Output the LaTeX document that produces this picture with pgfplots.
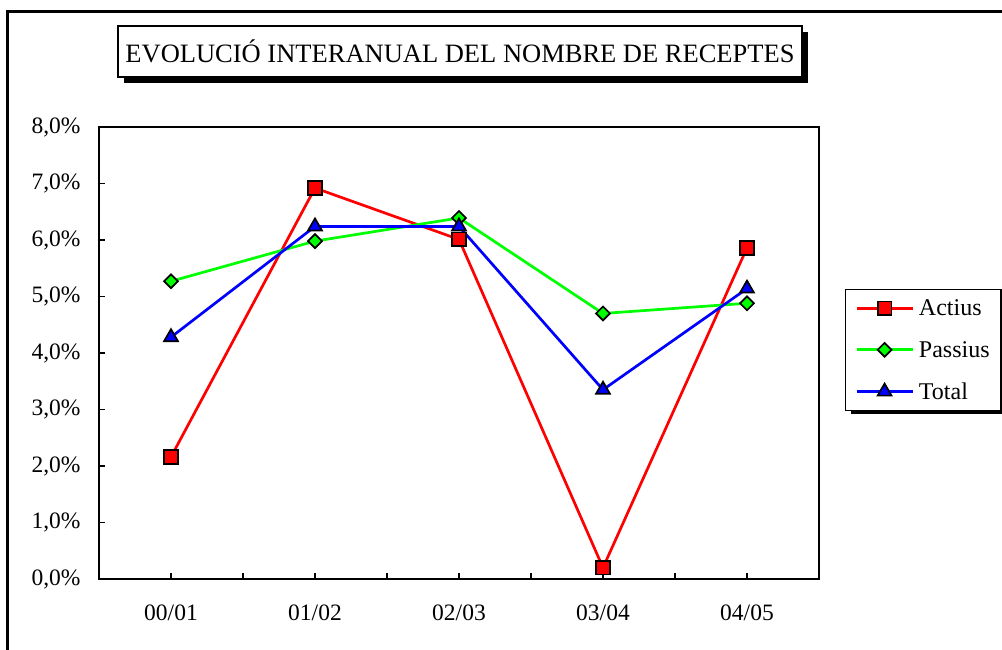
\documentclass[border=0pt]{standalone}
\usepackage{fontspec}
\setmainfont{Liberation Serif}
\usepackage{pgfplots}
\pgfplotsset{compat=1.18}
\begin{document}
\begin{tikzpicture}[x=1pt,y=1pt]
\useasboundingbox (0,0) rectangle (1002,650);
% outer frame (clipped at right and bottom)
\draw[line width=2.5pt] (7.5,0) -- (7.5,638.5) -- (1002,638.5);
% title box with shadow
\fill[black] (124,567) rectangle (808,618);
\draw[line width=1.5pt, fill=white] (118,573) rectangle (802,624);
\node[font=\fontsize{26.5}{30}\selectfont] at (460,598.5) {EVOLUCIÓ INTERANUAL DEL NOMBRE DE RECEPTES};
% legend shadow
\fill[black] (851,236) rectangle (1006,355);
\begin{axis}[
  at={(99pt,71pt)}, anchor=south west,
  scale only axis, width=720pt, height=452pt,
  xmin=-0.5, xmax=4.5, ymin=0, ymax=8,
  xtick={0,1,2,3,4},
  xticklabels={00/01,01/02,02/03,03/04,04/05},
  minor xtick={0.5,1.5,2.5,3.5},
  ytick={0,1,2,3,4,5,6,7,8},
  yticklabel={\pgfmathprintnumber[fixed,fixed zerofill,precision=1,use comma,assume math mode=true]{\tick}\%},
  tick align=inside,
  xtick pos=bottom, ytick pos=left,
  major tick length=6pt, minor tick length=6pt,
  tick style={black, line width=1.5pt},
  axis line style={line width=2.5pt},
  ticklabel style={font=\fontsize{23.5}{27}\selectfont},
  yticklabel style={xshift=-15pt},
  xticklabel style={yshift=-22pt},
  clip=false,
  legend style={at={(1.0361,0.6416)}, anchor=north west, draw=black, line width=1.5pt, fill=white,
    font=\fontsize{24}{28}\selectfont, row sep=20pt, column sep=3pt, inner xsep=9.5pt, inner ysep=8pt,
    legend cell align=left},
  legend image code/.code={\draw[mark repeat=2,mark phase=2,#1] plot coordinates {(0pt,0pt) (28pt,0pt) (56pt,0pt)};},
]
\addplot[color=red, line width=2.7pt, mark=square*, mark size=6.8pt,
  mark options={draw=black, fill=red, line width=1.7pt}]
  coordinates {(0,2.16) (1,6.92) (2,6.01) (3,0.20) (4,5.86)};
\addlegendentry{Actius}
\addplot[color=green, line width=2.7pt, mark=square*, mark size=4.9pt,
  mark options={draw=black, fill=green, line width=1.7pt, rotate=45}]
  coordinates {(0,5.27) (1,5.98) (2,6.39) (3,4.70) (4,4.88)};
\addlegendentry{Passius}
\addplot[color=blue, line width=2.7pt, mark=triangle*, mark size=8pt,
  mark options={draw=black, fill=blue, line width=1.7pt}]
  coordinates {(0,4.28) (1,6.24) (2,6.24) (3,3.35) (4,5.14)};
\addlegendentry{Total}
\end{axis}
\end{tikzpicture}
\end{document}
